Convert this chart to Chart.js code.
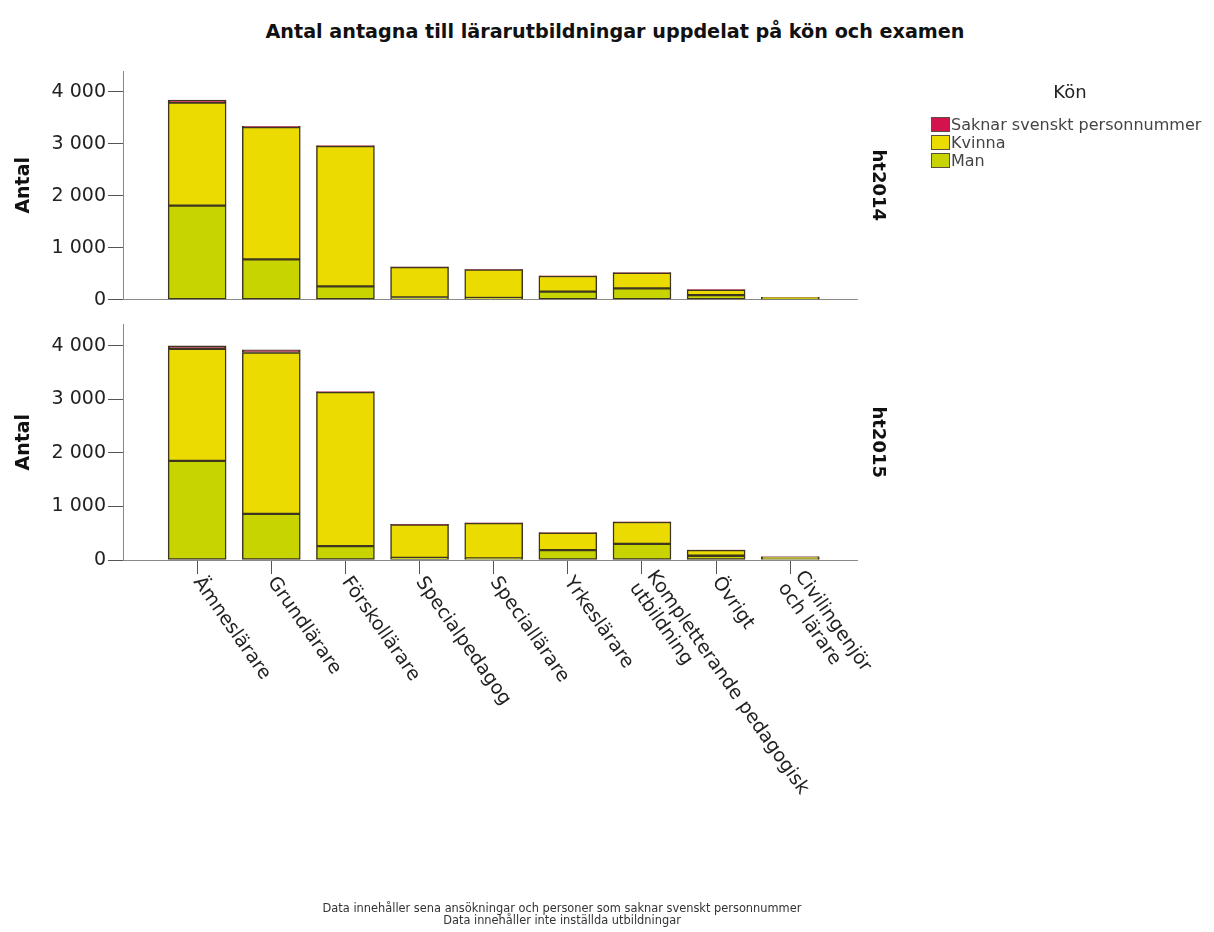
<!DOCTYPE html>
<html lang="sv">
<head>
<meta charset="utf-8">
<title>Antal antagna till lärarutbildningar</title>
<script src="https://cdn.jsdelivr.net/npm/chart.js@4.4.1/dist/chart.umd.min.js"></script>
<style>
    body { margin: 0; background: #fff; font-family: 'DejaVu Sans', sans-serif; }
    #page { position: relative; width: 1214px; height: 932px; overflow: hidden; }
    #page canvas { position: absolute; left: 0; }
    .chart-title { position: absolute; left: 0; width: 1230px; top: 21px; text-align: center; font-weight: bold; font-size: 19.2px; line-height: 22px; color: #111; }
    .legend-title { position: absolute; left: 1020px; width: 100px; top: 81px; text-align: center; font-size: 18px; line-height: 22px; color: #222; }
    .legend { position: absolute; left: 931px; top: 115px; }
    .legend-item { display: flex; align-items: center; height: 18px; font-size: 16px; color: #444; white-space: nowrap; }
    .legend-box { width: 19px; height: 15px; box-sizing: border-box; border: 1px solid #5a5040; margin-right: 1px; }
    .footnote { position: absolute; left: 262px; width: 600px; top: 902px; text-align: center; font-size: 11.4px; line-height: 12px; color: #333; }
</style>
</head>
<body>
<div id="page">
    <div class="chart-title">Antal antagna till lärarutbildningar uppdelat på kön och examen</div>
    <canvas id="chart2014" width="1214" height="313" style="top:0"></canvas>
    <canvas id="chart2015" width="1214" height="621" style="top:311px"></canvas>
    <div class="legend-title">Kön</div>
    <div class="legend" id="legend"></div>
    <div class="footnote">Data innehåller sena ansökningar och personer som saknar svenskt personnummer<br>Data innehåller inte inställda utbildningar</div>
</div>
<script>
// Examen (x-axeln), flerradiga etiketter som arrayer
const programs = [
    'Ämneslärare', 'Grundlärare', 'Förskollärare', 'Specialpedagog', 'Speciallärare',
    'Yrkeslärare', ['Kompletterande pedagogisk', 'utbildning'], 'Övrigt', ['Civilingenjör', 'och lärare']
];
const yTickValues = [0, 1000, 2000, 3000, 4000];
const Y_MAX = 4400;

// ht2014
const man2014    = [1810, 775, 255, 40, 30, 155, 215, 85, 25];
const kvinna2014 = [1980, 2545, 2700, 585, 550, 300, 300, 105, 18];
const saknar2014 = [50, 15, 10, 5, 5, 3, 3, 2, 2];

// ht2015
const man2015    = [1850, 860, 258, 40, 30, 185, 300, 80, 35];
const kvinna2015 = [2095, 3015, 2877, 622, 660, 322, 410, 103, 22];
const saknar2015 = [55, 50, 10, 5, 5, 3, 3, 2, 3];

const COLORS = {
    man: '#c7d400',    // gulgrön
    kvinna: '#ecdb00', // gul
    saknar: '#d3124e', // röd
    border: '#3d3620',
    axis: '#8a8a8a',
    tick: '#555'
};

Chart.defaults.font.family = "'DejaVu Sans', sans-serif";

const formatNumber = v => String(v).replace(/\B(?=(\d{3})+(?!\d))/g, '\u00a0');

// Roterade etiketter under nedre panelen (medurs, som i SPSS)
const programLabels = {
    id: 'programLabels',
    afterDraw(chart) {
        const { ctx, chartArea, scales: { x } } = chart;
        ctx.save();
        ctx.font = "19px 'DejaVu Sans'";
        ctx.fillStyle = '#222';
        ctx.textAlign = 'left';
        ctx.textBaseline = 'middle';
        programs.forEach((label, i) => {
            const lines = [].concat(label);
            ctx.save();
            ctx.translate(x.getPixelForValue(i), chartArea.bottom + 19);
            ctx.rotate(55 * Math.PI / 180);
            lines.forEach((line, j) => ctx.fillText(line, 0, (j - (lines.length - 1) / 2) * 21));
            ctx.restore();
        });
        ctx.restore();
    }
};

function toPoints(values) {
    return values.map((v, i) => ({ x: i, y: v }));
}

function buildPanel(canvasId, term, man, kvinna, saknar, isBottom) {
    const datasets = [
        { label: 'Man', data: toPoints(man), backgroundColor: COLORS.man },
        { label: 'Kvinna', data: toPoints(kvinna), backgroundColor: COLORS.kvinna },
        { label: 'Saknar svenskt personnummer', data: toPoints(saknar), backgroundColor: COLORS.saknar }
    ].map(ds => ({
        ...ds,
        stack: 'antal',
        borderColor: COLORS.border,
        borderWidth: 1.5,
        borderSkipped: false,
        barThickness: 58
    }));

    return new Chart(document.getElementById(canvasId), {
        type: 'bar',
        data: { datasets },
        options: {
            responsive: false,
            animation: false,
            layout: { padding: { top: isBottom ? 8 : 71, left: 0, right: 317, bottom: isBottom ? 0 : 2 } },
            plugins: {
                legend: { display: false },
                title: { display: false },
                tooltip: { enabled: false }
            },
            scales: {
                x: {
                    type: 'linear',
                    min: -1,
                    max: 8.9,
                    offset: false,
                    stacked: true,
                    afterBuildTicks: s => { s.ticks = programs.map((_, i) => ({ value: i })); },
                    afterFit: s => { s.height = isBottom ? 372 : 0; },
                    ticks: { display: false },
                    grid: { offset: false, drawOnChartArea: false, drawTicks: isBottom, tickLength: 14, tickColor: COLORS.tick },
                    border: { color: COLORS.axis }
                },
                y: {
                    min: 0,
                    max: Y_MAX,
                    stacked: true,
                    afterBuildTicks: s => { s.ticks = yTickValues.map(v => ({ value: v })); },
                    afterFit: s => { s.width = 123; },
                    ticks: {
                        padding: 2,
                        color: '#222',
                        font: { size: 19 },
                        callback: v => formatNumber(v)
                    },
                    grid: { drawOnChartArea: false, tickLength: 15, tickColor: COLORS.tick },
                    border: { color: COLORS.axis },
                    title: {
                        display: true,
                        text: 'Antal',
                        color: '#111',
                        padding: { top: 13, bottom: 0 },
                        font: { size: 19, weight: 'bold' }
                    }
                },
                // Panelrubrik till höger (ht2014 / ht2015)
                term: {
                    type: 'linear',
                    position: 'right',
                    afterFit: s => { s.width = 40; },
                    ticks: { display: false },
                    grid: { display: false },
                    border: { display: false },
                    title: {
                        display: true,
                        text: term,
                        color: '#111',
                        padding: { top: 9, bottom: 0 },
                        font: { size: 18, weight: 'bold' }
                    }
                }
            }
        },
        plugins: isBottom ? [programLabels] : []
    });
}

function renderLegend(chart) {
    const container = document.getElementById('legend');
    container.innerHTML = chart.data.datasets.slice().reverse().map(ds => `
        <div class="legend-item">
            <span class="legend-box" style="background:${ds.backgroundColor}"></span>${ds.label}
        </div>
    `).join('');
}

const top2014 = buildPanel('chart2014', 'ht2014', man2014, kvinna2014, saknar2014, false);
const bottom2015 = buildPanel('chart2015', 'ht2015', man2015, kvinna2015, saknar2015, true);
renderLegend(top2014);
</script>
</body>
</html>
